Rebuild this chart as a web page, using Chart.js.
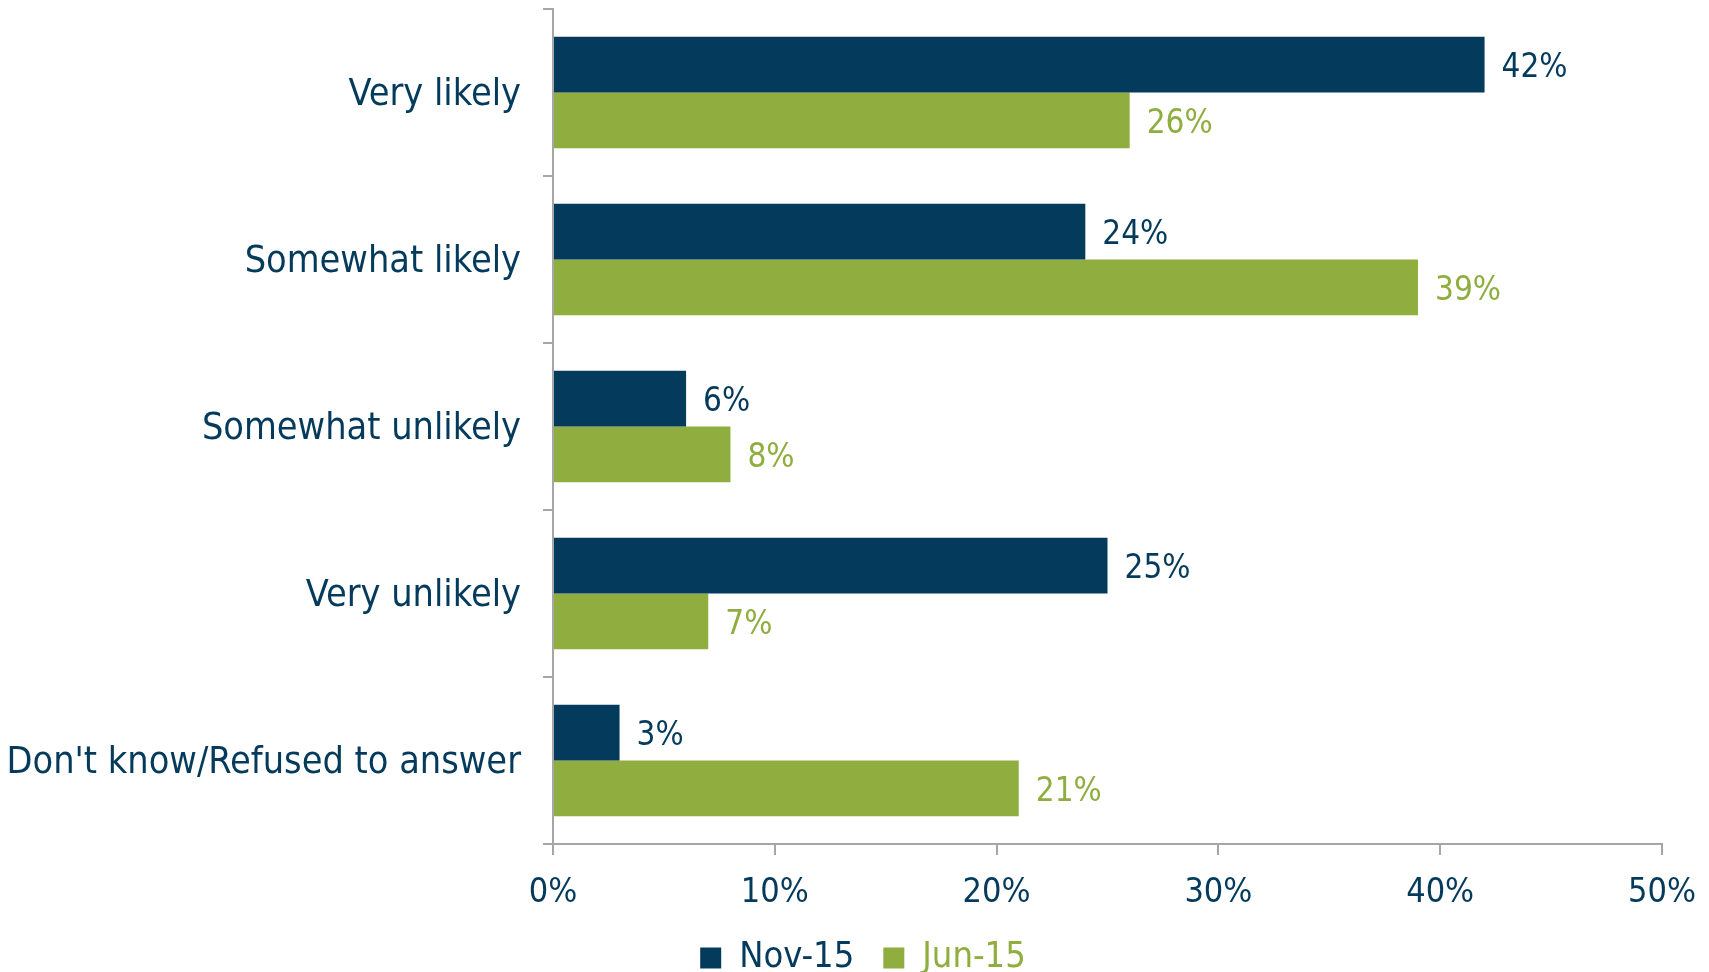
<!DOCTYPE html>
<html>
<head>
<meta charset="utf-8">
<script src="https://cdn.jsdelivr.net/npm/chart.js@4.4.0/dist/chart.umd.min.js"></script>
<style>
  html, body { margin: 0; padding: 0; background: #fff; }
  #wrap { width: 1709px; height: 972px; }
</style>
</head>
<body>
<div id="wrap"><canvas id="myChart"></canvas></div>
<script>
var categories = ['Very likely', 'Somewhat likely', 'Somewhat unlikely', 'Very unlikely', "Don't know/Refused to answer"];
var nov15 = [42, 24, 6, 25, 3];
var jun15 = [26, 39, 8, 7, 21];
var seriesNames = ['Nov-15', 'Jun-15'];
var tickValues = [0, 10, 20, 30, 40, 50];

var navy = '#043A5B';
var green = '#8FAE3F';
var axisGrey = '#A6A6A6';
var fam = '"DejaVu Sans Condensed", "DejaVu Sans", sans-serif';

// value labels at the end of each bar
var barLabels = {
	id: 'barLabels',
	afterDatasetsDraw: function(chart) {
		var ctx = chart.ctx;
		ctx.save();
		ctx.font = '33px ' + fam;
		ctx.textBaseline = 'middle';
		ctx.textAlign = 'left';
		chart.data.datasets.forEach(function(ds, i) {
			var meta = chart.getDatasetMeta(i);
			ctx.fillStyle = ds.labelColor;
			meta.data.forEach(function(bar, j) {
				ctx.fillText(ds.data[j] + '%', bar.x + 17, bar.y + 4);
			});
		});
		ctx.restore();
	}
};

// legend sits a little right of the canvas centre
var legendShift = {
	id: 'legendShift',
	afterLayout: function(chart) {
		chart.legend.left += 32;
		chart.legend.right += 32;
	}
};

var ctx = document.getElementById('myChart').getContext('2d');
var chart = new Chart(ctx, {
	type: 'bar',
	data: {
		labels: categories,
		datasets: [{
			label: seriesNames[0],
			data: nov15,
			backgroundColor: navy,
			labelColor: navy,
			categoryPercentage: 0.667,
			barPercentage: 1.0
		}, {
			label: seriesNames[1],
			data: jun15,
			backgroundColor: green,
			labelColor: green,
			categoryPercentage: 0.667,
			barPercentage: 1.0
		}]
	},
	options: {
		indexAxis: 'y',
		responsive: true,
		maintainAspectRatio: false,
		animation: false,
		layout: { padding: { top: 9, right: 47, left: 0, bottom: -14 } },
		scales: {
			x: {
				min: 0,
				max: 50,
				afterBuildTicks: function(scale) {
					scale.ticks = tickValues.map(function(v) { return { value: v }; });
				},
				ticks: {
					color: navy,
					font: { family: fam, size: 34 },
					padding: 18,
					callback: function(v) { return v + '%'; }
				},
				grid: { drawOnChartArea: false, color: axisGrey, tickLength: 11, lineWidth: 2 },
				border: { color: axisGrey, width: 2 },
				afterFit: function(scale) {
					scale.height = 67;
					scale.paddingLeft = 0;
					scale.paddingRight = 0;
				}
			},
			y: {
				ticks: {
					color: navy,
					font: { family: fam, size: 37.5 },
					padding: 22,
					labelOffset: 3
				},
				grid: { drawOnChartArea: false, offset: true, color: axisGrey, tickLength: 10, lineWidth: 2 },
				border: { color: axisGrey, width: 2 },
				afterFit: function(scale) {
					scale.width = 553;
					scale.paddingTop = 0;
					scale.paddingBottom = 0;
				}
			}
		},
		plugins: {
			tooltip: { enabled: false },
			legend: {
				position: 'bottom',
				labels: {
					font: { family: fam, size: 36 },
					boxWidth: 21,
					boxHeight: 21,
					padding: 29,
					generateLabels: function(chart) {
						return chart.data.datasets.map(function(ds, i) {
							return {
								text: ds.label,
								fillStyle: ds.backgroundColor,
								strokeStyle: ds.backgroundColor,
								lineWidth: 0,
								fontColor: ds.labelColor,
								datasetIndex: i
							};
						});
					}
				}
			}
		}
	},
	plugins: [barLabels, legendShift]
});
</script>
</body>
</html>
